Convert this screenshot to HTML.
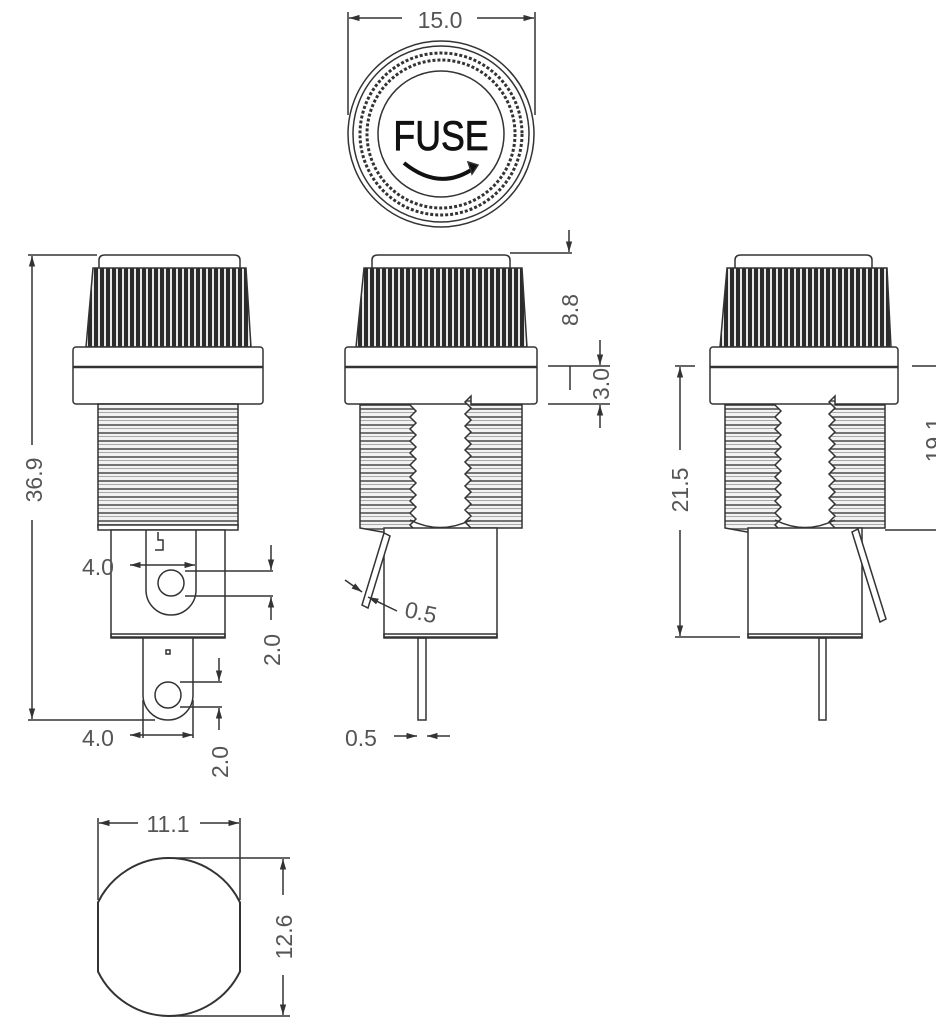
<!DOCTYPE html>
<html><head><meta charset="utf-8"><style>
html,body{margin:0;padding:0;background:#fff;}
svg{display:block;}
.d{font-family:"Liberation Sans",sans-serif;font-size:23px;fill:#555;}
</style></head><body>
<svg id="s" width="936" height="1024" viewBox="0 0 936 1024" xmlns="http://www.w3.org/2000/svg">
<defs>
<pattern id="knurl" width="6" height="10" patternUnits="userSpaceOnUse">
<rect width="6" height="10" fill="#2b2b2b"/><rect x="2" width="2" height="10" fill="#e8e8e8"/>
</pattern>
<pattern id="thr" width="10" height="8" patternUnits="userSpaceOnUse">
<rect width="10" height="8" fill="#f2f2f2"/><line x1="0" y1="1" x2="10" y2="1" stroke="#555" stroke-width="1.6"/><line x1="0" y1="4.5" x2="10" y2="4.5" stroke="#aaa" stroke-width="1"/>
</pattern>
<marker id="a" viewBox="0 0 10 10" refX="10" refY="5" markerWidth="9" markerHeight="7" orient="auto-start-reverse"><path d="M0,2 L10,5 L0,8z" fill="#333"/></marker>
</defs>
<g fill="none" stroke="#333" stroke-width="1.5">
<circle cx="441" cy="134" r="93"/><circle cx="441" cy="134" r="88"/>
<circle cx="441" cy="134" r="81" stroke-dasharray="3 2" stroke-width="3"/>
<circle cx="441" cy="134" r="74" stroke-dasharray="3 2" stroke-width="3"/>
<circle cx="441" cy="134" r="63"/>
<path d="M404,163 Q440,192 474,168" stroke="#111" stroke-width="4"/>
<path d="M468,162 L478,165 L472,174z" fill="#111"/>
<line x1="348" y1="12" x2="348" y2="115"/><line x1="535" y1="12" x2="535" y2="115"/>
<line x1="349" y1="18" x2="402" y2="18" marker-start="url(#a)"/><line x1="477" y1="18" x2="534" y2="18" marker-end="url(#a)"/>
</g>
<text x="441" y="150" text-anchor="middle" font-family="Liberation Sans,sans-serif" font-size="42" fill="#111" stroke="#111" stroke-width="0.8" transform="translate(441,0) scale(0.85,1) translate(-441,0)">FUSE</text>
<text class="d" x="440" y="28" text-anchor="middle">15.0</text>
<g id="views" fill="none" stroke="#333" stroke-width="1.5"></g>
<g class="d">
<text transform="translate(42,480) rotate(-90)" text-anchor="middle">36.9</text>
<text x="82" y="575">4.0</text>
<text transform="translate(280,650) rotate(-90)" text-anchor="middle">2.0</text>
<text x="82" y="746">4.0</text>
<text transform="translate(228,762) rotate(-90)" text-anchor="middle">2.0</text>
<text transform="translate(578,310) rotate(-90)" text-anchor="middle">8.8</text>
<text transform="translate(609,384) rotate(-90)" text-anchor="middle">3.0</text>
<text x="405" y="620" transform="rotate(12,420,612)">0.5</text>
<text x="345" y="746">0.5</text>
<text transform="translate(688,490) rotate(-90)" text-anchor="middle">21.5</text>
<text transform="translate(942,440) rotate(-90)" text-anchor="middle">19.1</text>
<text x="168" y="832" text-anchor="middle">11.1</text>
<text transform="translate(292,937) rotate(-90)" text-anchor="middle">12.6</text>
</g>
</svg>
<script>
var g=document.getElementById('views');var h='';
function cap(x0,x1,tx0,tx1,bx0,bx1,fx0,fx1){
 h+='<path d="M'+(x0)+',268 L'+x0+',260 Q'+x0+',255 '+(x0+6)+',255 L'+(x1-6)+',255 Q'+x1+',255 '+x1+',260 L'+x1+',268"/>';
 h+='<path d="M'+tx0+',268 L'+tx1+',268 L'+bx1+',347 L'+bx0+',347z" fill="url(#knurl)"/>';
 h+='<rect x="'+fx0+'" y="347" width="'+(fx1-fx0)+'" height="57" rx="3" fill="#fff"/>';
 h+='<line x1="'+fx0+'" y1="367" x2="'+fx1+'" y2="367" stroke-width="2.5"/>';
}
cap(99,240,93,246,86,251,73,263);
h+='<rect x="98" y="404" width="140" height="123" fill="url(#thr)"/>';
h+='<rect x="98" y="525" width="140" height="5" fill="#fff"/>';
h+='<rect x="111" y="530" width="114" height="107" fill="#fff"/>';
h+='<path d="M146,530 L146,590 A25,25 0 0 0 196,590 L196,530"/>';
h+='<path d="M158,532 L158,540 L163,540 L163,550 L155,550"/>';
h+='<circle cx="171" cy="583" r="13"/>';
h+='<rect x="111" y="634" width="114" height="4"/>';
h+='<path d="M143,638 L143,695 A25,25 0 0 0 193,695 L193,638"/>';
h+='<circle cx="168" cy="695" r="13"/><rect x="166" y="650" width="4" height="4"/>';
h+='<line x1="28" y1="255" x2="97" y2="255"/><line x1="28" y1="720" x2="155" y2="720"/>';
h+='<line x1="32" y1="256" x2="32" y2="445" marker-start="url(#a)"/><line x1="32" y1="520" x2="32" y2="719" marker-end="url(#a)"/>';
h+='<line x1="130" y1="565" x2="195" y2="565" marker-start="url(#a)" marker-end="url(#a)"/>';
h+='<line x1="185" y1="571" x2="273" y2="571"/><line x1="185" y1="596" x2="273" y2="596"/>';
h+='<line x1="271" y1="545" x2="271" y2="570" marker-end="url(#a)"/><line x1="271" y1="597" x2="271" y2="620" marker-start="url(#a)"/>';
h+='<line x1="143" y1="700" x2="143" y2="738"/><line x1="193" y1="700" x2="193" y2="738"/>';
h+='<line x1="130" y1="735" x2="193" y2="735" marker-start="url(#a)" marker-end="url(#a)"/>';
h+='<line x1="180" y1="682" x2="222" y2="682"/><line x1="180" y1="707" x2="222" y2="707"/>';
h+='<line x1="219" y1="658" x2="219" y2="681" marker-end="url(#a)"/><line x1="219" y1="708" x2="219" y2="730" marker-start="url(#a)"/>';
function col(x0,x1,side){var y;
 var s;
 if(side=='r'){s='M'+x0+',405 L'+x1+',405 ';for(y=405;y<527;y+=12){s+='L'+(x1+6)+','+(y+6)+' L'+x1+','+(y+12)+' ';}s+='L'+x0+',528z';}
 else{s='M'+x0+',405 L'+x1+',405 L'+x1+',528 L'+x0+',528 ';for(y=528;y>405;y-=12){s+='L'+(x0-6)+','+(y-6)+' L'+x0+','+(y-12)+' ';}s+='z';}
 h+='<path d="'+s+'" fill="url(#thr)"/>';
}
cap(372,510,364,522,356,527,345,537);
col(360,410,'r');col(471,522,'l');
h+='<path d="M410,520 Q440,535 471,520" />';
h+='<rect x="384" y="528" width="113" height="109" fill="#fff"/><rect x="384" y="634" width="113" height="4"/>';
h+='<rect x="418" y="638" width="8" height="82"/>';
h+='<path d="M384,533 L362,605 L368,608 L390,536z" fill="#fff"/>';
h+='<line x1="510" y1="253" x2="572" y2="253"/><line x1="569" y1="230" x2="569" y2="252" marker-end="url(#a)"/>';
h+='<line x1="548" y1="366" x2="610" y2="366"/><line x1="548" y1="404" x2="610" y2="404"/>';
h+='<line x1="600" y1="340" x2="600" y2="365" marker-end="url(#a)"/><line x1="600" y1="405" x2="600" y2="428" marker-start="url(#a)"/>';
h+='<line x1="570" y1="366" x2="570" y2="390" />';
h+='<line x1="345" y1="580" x2="362" y2="592" marker-end="url(#a)"/><line x1="368" y1="597" x2="397" y2="611" marker-start="url(#a)"/>';
h+='<line x1="394" y1="736" x2="417" y2="736" marker-end="url(#a)"/><line x1="427" y1="736" x2="450" y2="736" marker-start="url(#a)"/>';
cap(735,872,727,887,720,891,710,898);
col(725,775,'r');col(835,885,'l');
h+='<path d="M775,520 Q805,535 835,520"/>';
h+='<rect x="748" y="528" width="114" height="109" fill="#fff"/><rect x="748" y="634" width="114" height="4"/>';
h+='<rect x="819" y="638" width="7" height="82"/>';
h+='<path d="M852,532 L880,622 L886,619 L858,529z" fill="#fff"/>';
h+='<line x1="675" y1="366" x2="695" y2="366"/><line x1="675" y1="637" x2="740" y2="637"/>';
h+='<line x1="680" y1="367" x2="680" y2="450" marker-start="url(#a)"/><line x1="680" y1="530" x2="680" y2="636" marker-end="url(#a)"/>';
h+='<line x1="912" y1="366" x2="936" y2="366"/><line x1="885" y1="530" x2="936" y2="530"/>';
h+='<path d="M98,902.4 A79,79 0 0 1 240,902.4 L240,971.6 A79,79 0 0 1 98,971.6z" stroke-width="2"/>';
h+='<line x1="98" y1="818" x2="98" y2="900"/><line x1="240" y1="818" x2="240" y2="900"/>';
h+='<line x1="99" y1="823" x2="138" y2="823" marker-start="url(#a)"/><line x1="200" y1="823" x2="239" y2="823" marker-end="url(#a)"/>';
h+='<line x1="170" y1="858" x2="290" y2="858"/><line x1="170" y1="1016" x2="290" y2="1016"/>';
h+='<line x1="283" y1="859" x2="283" y2="895" marker-start="url(#a)"/><line x1="283" y1="975" x2="283" y2="1015" marker-end="url(#a)"/>';
g.innerHTML=h;
</script>
</body></html>
